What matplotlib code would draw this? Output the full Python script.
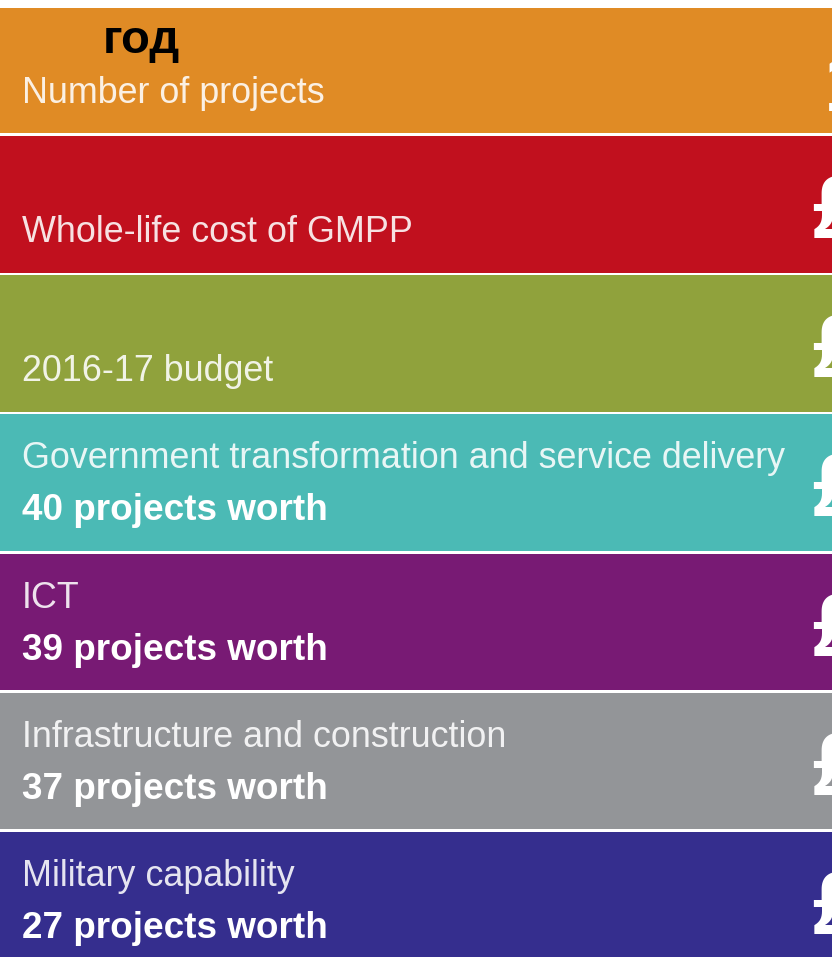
import numpy as np
import matplotlib
matplotlib.use('Agg')
import matplotlib.pyplot as plt

# ── data ─────────────────────────────────────────────────────────────────────
titles = ['Number of projects', 'Whole-life cost of GMPP', '2016-17 budget',
          'Government transformation and service delivery', 'ICT',
          'Infrastructure and construction', 'Military capability']
project_counts = [None, None, None, 40, 39, 37, 27]
edge_marks = ['1', '£', '£', '£', '£', '£', '£']   # cut off at the right edge
band_colors = ['#E08B25', '#C1101E', '#90A23C', '#4BBAB5',
               '#781A74', '#939598', '#352E8E']
header = 'год'

# ── layout (pixels) ──────────────────────────────────────────────────────────
W, H = 832, 957
first_top = 136 - 139.2
pitch = 139.2
band_h = 136.5

fig = plt.figure(figsize=(W / 100, H / 100), dpi=100, facecolor='white')
ax = fig.add_axes([0, 0, 1, 1])
ax.set_xlim(0, W)
ax.set_ylim(H, 0)
ax.axis('off')

tops = first_top + pitch * np.arange(len(titles))
tops_draw = np.maximum(tops, 8)
bottoms = tops + band_h
ax.barh((tops_draw + bottoms) / 2, W, height=bottoms - tops_draw, left=0,
        color=band_colors, edgecolor='none')

LIGHT = dict(family='Liberation Sans', fontsize=25.8, color='white', alpha=0.88,
             va='baseline', ha='left')
BOLD = dict(family='Liberation Sans', fontsize=26.6, color='white',
            fontweight='bold', va='baseline', ha='left')
EDGE = dict(family='Liberation Sans', fontweight='bold', color='white',
            va='baseline', ha='left', clip_on=True)

for top, title, n, mark in zip(tops, titles, project_counts, edge_marks):
    if n is None:
        ax.text(22, top + 106, title, **LIGHT)
    else:
        ax.text(22, top + 54, title, **LIGHT)
        ax.text(22, top + 106, f'{n} projects worth', **BOLD)
    if mark == '1':
        # only the flag of the "1" shows inside the crop
        ax.text(824, top + 114, mark, fontsize=58, **EDGE)
    else:
        ax.text(812, top + 102, mark, fontsize=64, **EDGE)

ax.text(103, 53, header, family='Liberation Sans', fontsize=34,
        fontweight='bold', color='black', va='baseline', ha='left')

plt.savefig('out.png', dpi=100, facecolor='white')
plt.close()
